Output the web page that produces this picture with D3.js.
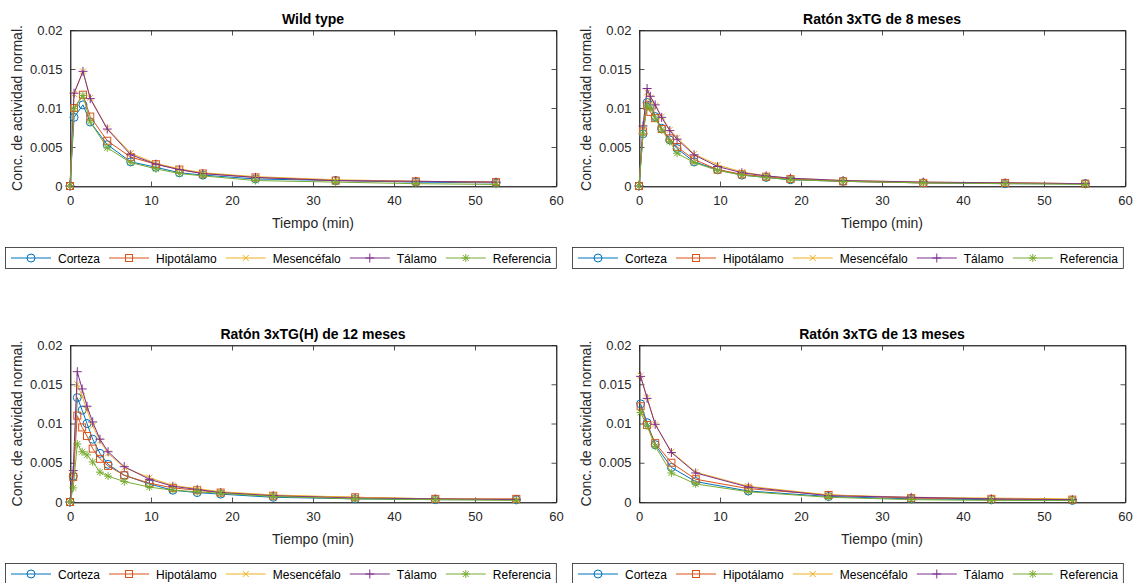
<!DOCTYPE html>
<html>
<head>
<meta charset="utf-8">
<script src="https://cdn.jsdelivr.net/npm/d3@7"></script>
<style>
  body { margin: 0; background: #fff; }
  svg { font-family: "Liberation Sans", Arial, sans-serif; }
  .tick text { fill: #262626; font-size: 13px; }
</style>
</head>
<body>
<div id="chart"></div>
<script>

// series names and colours (MATLAB default order)
var seriesNames = ["Corteza", "Hipotálamo", "Mesencéfalo", "Tálamo", "Referencia"];
var seriesColors = ["#0072BD", "#D95319", "#EDB120", "#7E2F8E", "#77AC30"];
var seriesMarkers = ["circle", "square", "x", "plus", "star"];

var panelTitles = ["Wild type", "Ratón 3xTG de 8 meses", "Ratón 3xTG(H) de 12 meses", "Ratón 3xTG de 13 meses"];

var xTicks = [0, 10, 20, 30, 40, 50, 60];
var yTicks = [0, 0.005, 0.01, 0.015, 0.02];
var yTickLabels = ["0", "0.005", "0.01", "0.015", "0.02"];

// Wild type
var tWild = [0, 0.5, 1.6, 2.5, 4.6, 7.5, 10.6, 13.5, 16.4, 22.9, 32.8, 42.7, 52.6];
var wildCorteza = [0, 0.0088, 0.0104, 0.0082, 0.0053, 0.0031, 0.0024, 0.0017, 0.0014, 0.0009, 0.0007, 0.0005, 0.0004];
var wildHipotalamo = [0, 0.0100, 0.0117, 0.0089, 0.0058, 0.0037, 0.0028, 0.0021, 0.0016, 0.0011, 0.0007, 0.0006, 0.0005];
var wildMesencefalo = [0, 0.0118, 0.0147, 0.0113, 0.0074, 0.0042, 0.0029, 0.0022, 0.0017, 0.0012, 0.0008, 0.0006, 0.0005];
var wildTalamo = [0, 0.0119, 0.0147, 0.0112, 0.0073, 0.0040, 0.0028, 0.0021, 0.0016, 0.0011, 0.0007, 0.0006, 0.0005];
var wildReferencia = [0, 0.0099, 0.0116, 0.0082, 0.0049, 0.0030, 0.0022, 0.0016, 0.0013, 0.0007, 0.0005, 0.0003, 0.0002];

// 3xTG 8 meses
var t8 = [0, 0.5, 1, 1.4, 2, 2.8, 3.8, 4.7, 6.8, 9.7, 12.7, 15.7, 18.7, 25.2, 35.1, 45.2, 55.1];
var m8Corteza = [0, 0.0067, 0.0107, 0.0104, 0.0089, 0.0074, 0.0059, 0.0048, 0.0031, 0.0021, 0.0014, 0.0011, 0.0008, 0.0006, 0.0004, 0.0003, 0.0003];
var m8Hipotalamo = [0, 0.0070, 0.0103, 0.0095, 0.0087, 0.0073, 0.0061, 0.0050, 0.0034, 0.0021, 0.0015, 0.0012, 0.0009, 0.0006, 0.0004, 0.0004, 0.0003];
var m8Mesencefalo = [0, 0.0075, 0.0120, 0.0113, 0.0103, 0.0089, 0.0072, 0.0062, 0.0041, 0.0027, 0.0018, 0.0013, 0.0010, 0.0007, 0.0005, 0.0004, 0.0003];
var m8Talamo = [0, 0.0077, 0.0125, 0.0115, 0.0104, 0.0088, 0.0071, 0.0060, 0.0040, 0.0025, 0.0017, 0.0013, 0.0010, 0.0007, 0.0005, 0.0004, 0.0003];
var m8Referencia = [0, 0.0067, 0.0103, 0.0100, 0.0087, 0.0072, 0.0057, 0.0042, 0.0030, 0.0020, 0.0014, 0.0011, 0.0008, 0.0006, 0.0004, 0.0003, 0.0002];

// 3xTG(H) 12 meses
var t12 = [0, 0.4, 0.9, 1.5, 2.1, 2.8, 3.7, 4.7, 6.7, 9.8, 12.7, 15.7, 18.6, 25.1, 35.2, 45.1, 55.1];
var m12Corteza = [0, 0.0033, 0.0133, 0.0117, 0.0100, 0.0080, 0.0062, 0.0048, 0.0034, 0.0023, 0.0015, 0.0012, 0.0010, 0.0006, 0.0004, 0.0003, 0.0003];
var m12Hipotalamo = [0, 0.0032, 0.0110, 0.0095, 0.0084, 0.0068, 0.0055, 0.0046, 0.0034, 0.0024, 0.0018, 0.0015, 0.0012, 0.0008, 0.0006, 0.0004, 0.0004];
var m12Mesencefalo = [0, 0.0036, 0.0150, 0.0135, 0.0117, 0.0097, 0.0078, 0.0062, 0.0044, 0.0031, 0.0021, 0.0017, 0.0013, 0.0009, 0.0006, 0.0004, 0.0003];
var m12Talamo = [0, 0.0040, 0.0166, 0.0144, 0.0122, 0.0102, 0.0080, 0.0064, 0.0045, 0.0029, 0.0020, 0.0016, 0.0012, 0.0008, 0.0005, 0.0004, 0.0003];
var m12Referencia = [0, 0.0018, 0.0074, 0.0064, 0.0060, 0.0051, 0.0038, 0.0033, 0.0026, 0.0019, 0.0015, 0.0013, 0.0011, 0.0007, 0.0004, 0.0003, 0.0002];

// 3xTG 13 meses
var t13 = [0.2, 1.0, 2.0, 4.0, 7.0, 13.5, 23.4, 33.6, 43.5, 53.5];
var m13Corteza = [0.0125, 0.0101, 0.0073, 0.0044, 0.0026, 0.0014, 0.0007, 0.0004, 0.0003, 0.0002];
var m13Hipotalamo = [0.0122, 0.0098, 0.0075, 0.0050, 0.0029, 0.0017, 0.0009, 0.0005, 0.0004, 0.0003];
var m13Mesencefalo = [0.0161, 0.0133, 0.0099, 0.0064, 0.0038, 0.0020, 0.0009, 0.0006, 0.0005, 0.0004];
var m13Talamo = [0.0160, 0.0132, 0.0099, 0.0063, 0.0037, 0.0019, 0.0008, 0.0006, 0.0004, 0.0003];
var m13Referencia = [0.0114, 0.0097, 0.0071, 0.0037, 0.0023, 0.0013, 0.0006, 0.0003, 0.0002, 0.0002];


var WIDTH = 1138;
var HEIGHT = 583;

// axes boxes in pixels
var panelBoxes = [
    { x0: 70, x1: 556, y0: 30, y1: 186, legendY: 247 },
    { x0: 639, x1: 1125, y0: 30, y1: 186, legendY: 247 },
    { x0: 70, x1: 556, y0: 345, y1: 502, legendY: 563 },
    { x0: 639, x1: 1125, y0: 345, y1: 502, legendY: 563 }
];
var legendLeft = [5, 572, 5, 572];

var panelData = [
    { t: tWild, ys: [wildCorteza, wildHipotalamo, wildMesencefalo, wildTalamo, wildReferencia] },
    { t: t8, ys: [m8Corteza, m8Hipotalamo, m8Mesencefalo, m8Talamo, m8Referencia] },
    { t: t12, ys: [m12Corteza, m12Hipotalamo, m12Mesencefalo, m12Talamo, m12Referencia] },
    { t: t13, ys: [m13Corteza, m13Hipotalamo, m13Mesencefalo, m13Talamo, m13Referencia] }
];


var svg = d3.select("#chart").append("svg")
    .attr("width", WIDTH)
    .attr("height", HEIGHT);


function draw_marker(g, kind, color) {
    if (kind == "circle") {
        g.append("circle").attr("r", 4).attr("fill", "none")
            .attr("stroke", color).attr("stroke-width", 1);
    } else if (kind == "square") {
        g.append("rect").attr("x", -3.5).attr("y", -3.5)
            .attr("width", 7).attr("height", 7).attr("fill", "none")
            .attr("stroke", color).attr("stroke-width", 1);
    } else if (kind == "x") {
        g.append("path").attr("d", "M-3,-3L3,3M-3,3L3,-3")
            .attr("stroke", color).attr("stroke-width", 1);
    } else if (kind == "plus") {
        g.append("path").attr("d", "M-4.5,0L4.5,0M0,-4.5L0,4.5")
            .attr("stroke", color).attr("stroke-width", 1);
    } else if (kind == "star") {
        g.append("path").attr("d", "M-4,0L4,0M0,-4L0,4M-3,-3L3,3M-3,3L3,-3")
            .attr("stroke", color).attr("stroke-width", 1);
    }
}


function draw_panel(i) {
    var box = panelBoxes[i];
    var pd = panelData[i];

    var x = d3.scaleLinear().domain([0, 60]).range([box.x0, box.x1]);
    var y = d3.scaleLinear().domain([0, 0.02]).range([box.y1, box.y0]);

    var g = svg.append("g");

    // box frame
    g.append("rect")
        .attr("x", box.x0 + 0.5).attr("y", box.y0 + 0.5)
        .attr("width", box.x1 - box.x0).attr("height", box.y1 - box.y0)
        .attr("fill", "none").attr("stroke", "#262626").attr("stroke-width", 0.8);

    // axes with inward ticks
    var xAxis = g.append("g")
        .attr("transform", "translate(0," + (box.y1 + 0.5) + ")")
        .call(d3.axisBottom(x).tickValues(xTicks).tickSizeInner(-5).tickSizeOuter(0).tickPadding(9));
    var xAxisTop = g.append("g")
        .attr("transform", "translate(0," + (box.y0 + 0.5) + ")")
        .call(d3.axisTop(x).tickValues(xTicks).tickSizeInner(-5).tickSizeOuter(0).tickFormat(""));
    var yAxis = g.append("g")
        .attr("transform", "translate(" + (box.x0 + 0.5) + ",0)")
        .call(d3.axisLeft(y).tickValues(yTicks).tickSizeInner(-5).tickSizeOuter(0).tickPadding(8)
              .tickFormat(function (d, k) { return yTickLabels[k]; }));
    var yAxisRight = g.append("g")
        .attr("transform", "translate(" + (box.x1 + 0.5) + ",0)")
        .call(d3.axisRight(y).tickValues(yTicks).tickSizeInner(-5).tickSizeOuter(0).tickFormat(""));

    [xAxis, xAxisTop, yAxis, yAxisRight].forEach(function (a) {
        a.select(".domain").attr("stroke", "#262626").attr("stroke-width", 0.8);
        a.selectAll(".tick line").attr("stroke", "#262626").attr("stroke-width", 0.8);
        a.selectAll(".tick text").attr("font-family", null).attr("font-size", null);
    });

    // labels
    g.append("text")
        .attr("x", (box.x0 + box.x1) / 2).attr("y", box.y0 - 6)
        .attr("text-anchor", "middle").attr("font-weight", "bold")
        .attr("font-size", 14).attr("fill", "#000")
        .text(panelTitles[i]);

    g.append("text")
        .attr("x", (box.x0 + box.x1) / 2).attr("y", box.y1 + 42)
        .attr("text-anchor", "middle").attr("font-size", 14).attr("fill", "#262626")
        .text("Tiempo (min)");

    g.append("text")
        .attr("transform", "translate(" + (box.x0 - 48) + "," + ((box.y0 + box.y1) / 2) + ") rotate(-90)")
        .attr("text-anchor", "middle").attr("font-size", 14).attr("fill", "#262626")
        .text("Conc. de actividad normal.");

    // series, drawn in legend order so Referencia ends on top
    var line = d3.line()
        .x(function (d) { return x(d[0]); })
        .y(function (d) { return y(d[1]); });

    pd.ys.forEach(function (vals, s) {
        var pts = pd.t.map(function (t, k) { return [t, vals[k]]; });
        var sg = g.append("g");
        sg.append("path")
            .attr("d", line(pts))
            .attr("fill", "none")
            .attr("stroke", seriesColors[s])
            .attr("stroke-width", 1);
        sg.selectAll("g.mk")
            .data(pts).enter()
            .append("g")
            .attr("class", "mk")
            .attr("transform", function (d) { return "translate(" + x(d[0]) + "," + y(d[1]) + ")"; })
            .each(function () { draw_marker(d3.select(this), seriesMarkers[s], seriesColors[s]); });
    });

    draw_legend(legendLeft[i], box.legendY);
}


function draw_legend(lx, ly) {
    var lg = svg.append("g").attr("transform", "translate(" + lx + "," + ly + ")");
    var box = lg.append("rect")
        .attr("x", 0.5).attr("y", 0.5).attr("height", 21)
        .attr("fill", "#fff").attr("stroke", "#262626").attr("stroke-width", 0.8);

    var cx = 6;
    seriesNames.forEach(function (name, s) {
        var item = lg.append("g").attr("transform", "translate(" + cx + ",11)");
        item.append("line")
            .attr("x1", 0).attr("x2", 40).attr("y1", 0).attr("y2", 0)
            .attr("stroke", seriesColors[s]).attr("stroke-width", 1);
        var mk = item.append("g").attr("transform", "translate(20,0)");
        draw_marker(mk, seriesMarkers[s], seriesColors[s]);
        var txt = item.append("text")
            .attr("x", 47).attr("y", 4.5)
            .attr("font-size", 12).attr("fill", "#000")
            .text(name);
        cx += 47 + txt.node().getComputedTextLength() + 9;
    });
    box.attr("width", cx - 4);
}


for (var i = 0; i < 4; i++) draw_panel(i);

</script>
</body>
</html>
